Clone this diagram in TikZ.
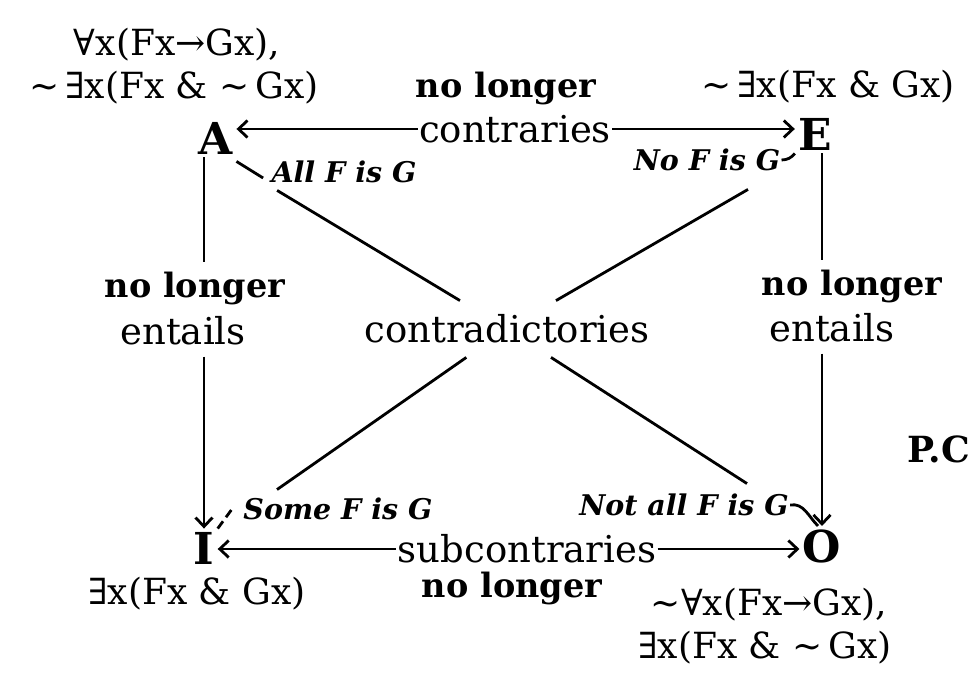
\documentclass[tikz,border=0pt]{standalone}
\usepackage{fontspec}
\setmainfont{DejaVu Serif}
\usetikzlibrary{arrows.meta}
\newcommand{\tld}{\textasciitilde}
\begin{document}
\begin{tikzpicture}[x=1pt,y=-1pt,line width=2.8pt,
  >={Straight Barb[length=9pt,width=17pt]},
  letter/.style={font=\fontsize{44}{44}\selectfont\bfseries,inner sep=2pt},
  form/.style={font=\fontsize{36}{38}\selectfont,inner sep=0pt},
  lab/.style={font=\fontsize{37}{40}\selectfont,inner sep=0pt},
  nl/.style={font=\fontsize{33.5}{35}\selectfont\bfseries,inner sep=0pt},
  ital/.style={font=\fontsize{28.5}{30}\selectfont\bfseries\itshape,inner sep=0pt}]
\useasboundingbox (0,0) rectangle (970,682);
% corner letters
\node[letter] (A) at (216,138) {A};
\node[letter] (E) at (815,134) {E};
\node[letter] (I) at (204,548) {I};
\node[letter] (O) at (822,546) {O};
% formulas
\node[form] (fa1) at (177,45) {∀x(Fx→Gx),};
\node[form] (fa2) at (174,88) {\tld\,∃x(Fx \& \tld\,Gx)};
\node[form] (fe) at (828,87) {\tld\,∃x(Fx \& Gx)};
\node[form] (fi) at (197,594) {∃x(Fx \& Gx)};
\node[form] (fo1) at (769,605) {\tld∀x(Fx→Gx),};
\node[form] (fo2) at (765,648) {∃x(Fx \& \tld\,Gx)};
% relation labels
\node[nl] (nltop) at (506,88) {no longer};
\node[lab] (con) at (515,129) {contraries};
\node[lab] (sub) at (527,549) {subcontraries};
\node[nl] (nlbot) at (512,588) {no longer};
\node[nl,inner ysep=8pt] (nlL) at (195,288) {no longer};
\node[lab,inner ysep=10pt] (entL) at (183,331) {entails};
\node[nl,inner ysep=8pt] (nlR) at (852,286) {no longer};
\node[lab,inner ysep=10pt] (entR) at (832,328) {entails};
\node[lab,minimum height=54pt] (contr) at (507,329) {contradictories};
% italic labels
\node[ital] (all) at (344,172) {All F is G};
\node[ital] (no) at (707,160) {No F is G};
\node[ital] (some) at (338,509) {Some F is G};
\node[ital] (not) at (684,505) {Not all F is G};
\node[font=\fontsize{36}{38}\selectfont\bfseries,anchor=west,inner sep=0pt] (pc) at (906,449) {P.C};
% contraries / subcontraries
\draw[<-] (A.east |- con.west) -- (con.west);
\draw[->] (con.east) -- (con.east -| E.west);
\draw[<-] (I.east |- sub.west) -- (sub.west);
\draw[->] (sub.east) -- (sub.east -| O.west);
% entails
\draw (A.south -| I) -- (nlL.north -| I);
\draw[->] (entL.south -| I) -- (I.north);
\draw (E.south -| O) -- (nlR.north -| O);
\draw[->] (entR.south -| O) -- (O.north);
% contradictories
\draw ([xshift=7pt,yshift=-6pt]all.south west) -- (contr);
\draw (contr) -- ([xshift=63pt,yshift=9pt]not.north);
\draw ([xshift=41pt,yshift=-17pt]no.south) -- (contr);
\draw (contr) -- ([xshift=-61pt,yshift=7pt]some.north);
% small ticks to the labels
\draw ([yshift=-4pt]A.south east) -- ([xshift=-7pt,yshift=-6pt]all.west);
\draw (no.east) to[bend right=25] (E.south west);
\draw[dash pattern=on 9pt off 5pt] (I.north east) -- ([xshift=-10pt]some.west);
\draw (not.east) to[out=10,in=135] ([xshift=-4pt]O.north);
\end{tikzpicture}
\end{document}
